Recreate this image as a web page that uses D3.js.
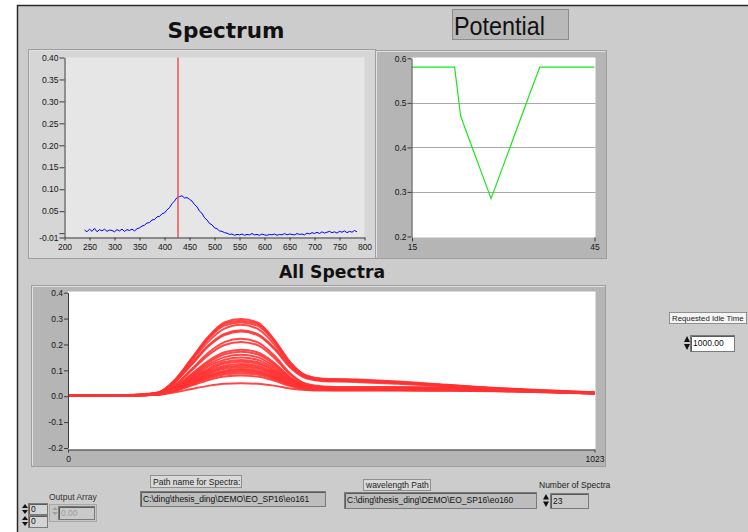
<!DOCTYPE html>
<html>
<head>
<meta charset="utf-8">
<script src="https://cdn.jsdelivr.net/npm/d3@7"></script>
<style>
  body { margin: 0; background: #fff; }
  text { font-family: "Liberation Sans", Arial, sans-serif; }
</style>
</head>
<body>
<div id="app"></div>
<script>
// ---- data ----
const spectrumWl = d3.range(240, 790, 5);
const spectrumAbs = [
  0.007, 0.003, 0.009, 0.004, 0.011, 0.003, 0.008, 0.005, 0.009, 0.004,
  0.007, 0.006, 0.003, 0.008, 0.005, 0.009, 0.004, 0.008, 0.006, 0.009,
  0.005, 0.010, 0.012, 0.016, 0.018, 0.023, 0.024, 0.030, 0.031, 0.037,
  0.038, 0.044, 0.046, 0.053, 0.058, 0.067, 0.073, 0.081, 0.083, 0.085,
  0.080, 0.081, 0.077, 0.073, 0.065, 0.060, 0.050, 0.045, 0.035, 0.030,
  0.022, 0.019, 0.012, 0.010, 0.005, 0.004, 0.001, 0.000, -0.003, -0.002,
  -0.005, -0.003, -0.004, -0.002, -0.005, -0.003, -0.004, -0.001, -0.004, -0.003,
  -0.005, -0.002, -0.004, -0.005, -0.003, -0.004, -0.002, -0.005, -0.003, -0.004,
  -0.001, -0.004, -0.002, -0.003, -0.004, -0.001, -0.003, -0.002, -0.004, 0.000,
  -0.002, 0.001, -0.001, 0.002, -0.001, 0.003, 0.000, 0.002, 0.004, 0.001,
  0.003, 0.000, 0.004, 0.002, 0.005, 0.001, 0.004, 0.002, 0.006, 0.003
];
const cursorWl = 427;
const spectrumXTicks = d3.range(200, 801, 50);
const spectrumYTicks = [0.40, 0.35, 0.30, 0.25, 0.20, 0.15, 0.10, 0.05, 0.00, -0.01];

const potTime = d3.range(15, 46);
const potValue = [
  0.58, 0.58, 0.58, 0.58, 0.58, 0.58, 0.58, 0.58,
  0.47, 0.433, 0.396, 0.359, 0.322, 0.285, 0.322, 0.359, 0.396, 0.433, 0.47, 0.507, 0.544,
  0.58, 0.58, 0.58, 0.58, 0.58, 0.58, 0.58, 0.58, 0.58, 0.58
];
const potYTicks = [0.2, 0.3, 0.4, 0.5, 0.6];
const potXTicks = [15, 45];

const allIdx = [0, 64, 128, 176, 208, 240, 272, 304, 336, 368, 400, 432, 464, 496, 544, 640, 736, 832, 928, 1023];
const allSpectra = [
  [0.004,0.005,0.003,0.015,0.064,0.146,0.229,0.285,0.298,0.285,0.221,0.131,0.078,0.066,0.064,0.055,0.043,0.031,0.019,0.013],
  [0.003,0.004,0.005,0.014,0.062,0.143,0.224,0.280,0.292,0.280,0.216,0.128,0.076,0.064,0.062,0.053,0.042,0.030,0.018,0.013],
  [0.005,0.003,0.004,0.015,0.062,0.141,0.221,0.273,0.285,0.273,0.213,0.128,0.079,0.068,0.066,0.057,0.044,0.032,0.020,0.013],
  [0.004,0.004,0.006,0.014,0.059,0.134,0.210,0.261,0.276,0.261,0.202,0.120,0.072,0.061,0.059,0.051,0.040,0.029,0.018,0.012],
  [0.004,0.003,0.004,0.014,0.056,0.125,0.195,0.241,0.255,0.241,0.189,0.115,0.073,0.063,0.061,0.052,0.041,0.030,0.018,0.013],
  [0.003,0.005,0.004,0.013,0.054,0.121,0.191,0.236,0.250,0.236,0.184,0.110,0.068,0.058,0.056,0.048,0.038,0.027,0.017,0.012],
  [0.004,0.003,0.005,0.011,0.045,0.104,0.167,0.209,0.222,0.209,0.159,0.088,0.047,0.038,0.036,0.036,0.034,0.031,0.023,0.015],
  [0.005,0.004,0.003,0.011,0.042,0.099,0.158,0.198,0.210,0.198,0.150,0.083,0.045,0.036,0.034,0.034,0.033,0.030,0.022,0.015],
  [0.003,0.005,0.004,0.010,0.037,0.086,0.136,0.170,0.180,0.170,0.130,0.073,0.041,0.033,0.032,0.032,0.031,0.028,0.021,0.014],
  [0.004,0.004,0.005,0.009,0.036,0.082,0.129,0.162,0.172,0.162,0.124,0.070,0.039,0.031,0.030,0.030,0.029,0.026,0.020,0.013],
  [0.005,0.003,0.004,0.009,0.034,0.077,0.121,0.151,0.160,0.151,0.116,0.067,0.039,0.032,0.031,0.031,0.030,0.027,0.020,0.013],
  [0.004,0.005,0.003,0.009,0.032,0.072,0.114,0.141,0.150,0.141,0.109,0.062,0.035,0.029,0.028,0.028,0.027,0.024,0.018,0.012],
  [0.003,0.004,0.005,0.009,0.031,0.068,0.106,0.132,0.140,0.132,0.102,0.060,0.036,0.030,0.029,0.029,0.028,0.025,0.019,0.013],
  [0.004,0.003,0.004,0.008,0.029,0.065,0.101,0.126,0.133,0.126,0.097,0.057,0.033,0.028,0.027,0.027,0.026,0.024,0.018,0.012],
  [0.005,0.004,0.004,0.008,0.028,0.062,0.096,0.118,0.125,0.118,0.092,0.055,0.034,0.029,0.028,0.028,0.027,0.024,0.018,0.012],
  [0.003,0.005,0.004,0.008,0.027,0.058,0.090,0.112,0.118,0.112,0.087,0.052,0.032,0.027,0.026,0.026,0.025,0.023,0.017,0.012],
  [0.004,0.003,0.005,0.008,0.026,0.056,0.086,0.106,0.112,0.106,0.083,0.051,0.032,0.028,0.027,0.027,0.026,0.024,0.018,0.012],
  [0.005,0.004,0.003,0.008,0.024,0.052,0.081,0.099,0.105,0.099,0.078,0.047,0.030,0.026,0.025,0.025,0.024,0.022,0.017,0.011],
  [0.004,0.005,0.004,0.008,0.024,0.051,0.077,0.095,0.100,0.095,0.075,0.047,0.030,0.027,0.026,0.026,0.025,0.023,0.017,0.012],
  [0.003,0.004,0.005,0.007,0.023,0.048,0.073,0.090,0.095,0.090,0.071,0.044,0.028,0.025,0.024,0.024,0.023,0.021,0.016,0.011],
  [0.005,0.003,0.004,0.007,0.022,0.045,0.068,0.084,0.088,0.084,0.067,0.043,0.029,0.026,0.025,0.025,0.024,0.022,0.017,0.011],
  [0.004,0.004,0.003,0.007,0.020,0.041,0.062,0.076,0.080,0.076,0.061,0.039,0.026,0.024,0.023,0.023,0.022,0.020,0.015,0.011],
  [0.003,0.005,0.004,0.006,0.015,0.028,0.040,0.048,0.050,0.048,0.041,0.030,0.024,0.022,0.022,0.022,0.021,0.019,0.015,0.010]
];
const allYTicks = [-0.2, -0.1, 0.0, 0.1, 0.2, 0.3, 0.4];
const allXTicks = [0, 1023];

// ---- page ----
const width = 748, height = 532;
const svg = d3.select('#app').append('svg').attr('width', width).attr('height', height);

svg.append('rect').attr('x', 17).attr('y', 5).attr('width', width - 17).attr('height', height - 5).attr('fill', '#cccccc');
svg.append('path').attr('d', 'M17.5,532V5.5H748').attr('fill', 'none').attr('stroke', '#2b2b2b').attr('stroke-width', 1.5);

function styleAxis(g, size) {
    g.attr('font-family', '"Liberation Sans", Arial, sans-serif').attr('font-size', size || 8.5);
    g.select('.domain').attr('stroke', '#3c3c3c');
    g.selectAll('.tick line').attr('stroke', '#3c3c3c');
    g.selectAll('.tick text').attr('fill', '#151515');
}

function frame(x, y, w, h, fill) {
    svg.append('rect').attr('x', x).attr('y', y).attr('width', w).attr('height', h)
        .attr('fill', fill).attr('stroke', '#9e9e9e').attr('stroke-width', 1);
    // light bevel
    svg.append('path').attr('d', `M${x + 1},${y + h - 1}V${y + 1}H${x + w - 1}`)
        .attr('fill', 'none').attr('stroke', '#e0e0e0').attr('stroke-width', 1);
}

// ---- Spectrum ----
svg.append('text').attr('x', 226).attr('y', 38).attr('text-anchor', 'middle')
    .style('font-family', '"DejaVu Sans", Verdana, sans-serif').style('font-weight', 'bold').style('font-size', '22px')
    .attr('textLength', 117).attr('lengthAdjust', 'spacingAndGlyphs').attr('fill', '#111').text('Spectrum');

frame(28.5, 49.5, 347, 209, '#d6d6d6');

const sx = d3.scaleLinear().domain([200, 800]).range([64.5, 364.5]);
const sy = d3.scaleLinear().domain([-0.01, 0.40]).range([237.5, 57.5]);

svg.append('rect').attr('x', sx(200)).attr('y', sy(0.40)).attr('width', sx(800) - sx(200)).attr('height', sy(-0.01) - sy(0.40)).attr('fill', '#e6e6e6');
svg.append('defs').append('clipPath').attr('id', 'clipSpec').append('rect')
    .attr('x', sx(200)).attr('y', sy(0.40)).attr('width', sx(800) - sx(200)).attr('height', sy(-0.01) - sy(0.40));

svg.append('path').datum(spectrumAbs)
    .attr('clip-path', 'url(#clipSpec)')
    .attr('d', d3.line().x((d, i) => sx(spectrumWl[i])).y(d => sy(d)))
    .attr('fill', 'none').attr('stroke', '#0000ff').attr('stroke-width', 1);

svg.append('line').attr('x1', sx(cursorWl)).attr('x2', sx(cursorWl)).attr('y1', sy(0.40)).attr('y2', sy(-0.01))
    .attr('stroke', '#f25050').attr('stroke-width', 1.5);

svg.append('g').attr('transform', `translate(${sx(200)},0)`)
    .call(d3.axisLeft(sy).tickValues(spectrumYTicks).tickSize(5).tickSizeOuter(0).tickPadding(1)
        .tickFormat(d => d === 0 ? '' : d.toFixed(2)))
    .call(g => styleAxis(g));
svg.append('g').attr('transform', `translate(0,${sy(-0.01)})`)
    .call(d3.axisBottom(sx).tickValues(spectrumXTicks).tickSize(3).tickSizeOuter(0).tickPadding(3).tickFormat(d3.format('d')))
    .call(g => styleAxis(g));

// ---- Potential ----
svg.append('rect').attr('x', 452.5).attr('y', 9.5).attr('width', 116).attr('height', 30)
    .attr('fill', '#b9b9b9').attr('stroke', '#8c8c8c');
svg.append('text').attr('x', 454).attr('y', 35)
    .style('font-size', '26px').attr('textLength', 91).attr('lengthAdjust', 'spacingAndGlyphs')
    .attr('fill', '#111').text('Potential');

frame(375.5, 50.5, 231, 208, '#b5b5b5');

const px = d3.scaleLinear().domain([15, 45]).range([412, 594.5]);
const py = d3.scaleLinear().domain([0.2, 0.6]).range([236.5, 58.3]);

svg.append('rect').attr('x', 411.5).attr('y', 57.5).attr('width', 184).attr('height', 180).attr('fill', '#ffffff');
svg.append('g').selectAll('line').data(potYTicks.filter(d => d > 0.2 && d < 0.6)).join('line')
    .attr('x1', 411.5).attr('x2', 595.5).attr('y1', d => Math.round(py(d)) + 0.5).attr('y2', d => Math.round(py(d)) + 0.5)
    .attr('stroke', '#a9a9a9');

svg.append('path').datum(potValue)
    .attr('d', d3.line().x((d, i) => px(potTime[i])).y(d => py(d)))
    .attr('fill', 'none').attr('stroke', '#19e619').attr('stroke-width', 1.2);

svg.append('g').attr('transform', 'translate(411.5,0)')
    .call(d3.axisLeft(py).tickValues(potYTicks).tickSize(4).tickSizeOuter(0).tickPadding(1).tickFormat(d => d.toFixed(1)))
    .call(g => styleAxis(g));
svg.append('g').attr('transform', 'translate(0,237.5)')
    .call(d3.axisBottom(px).tickValues(potXTicks).tickSize(4).tickSizeOuter(0).tickPadding(2))
    .call(g => styleAxis(g))
    .call(g => g.select('.domain').remove());

// ---- All Spectra ----
svg.append('text').attr('x', 332).attr('y', 278).attr('text-anchor', 'middle')
    .style('font-family', '"DejaVu Sans", Verdana, sans-serif').style('font-weight', 'bold').style('font-size', '17px')
    .attr('textLength', 106).attr('lengthAdjust', 'spacingAndGlyphs').attr('fill', '#111').text('All Spectra');

frame(31.5, 285.5, 574, 181, '#b5b5b5');

const ax = d3.scaleLinear().domain([0, 1023]).range([68, 594.5]);
const ay = d3.scaleLinear().domain([-0.2, 0.4]).range([448, 292.7]);

svg.append('rect').attr('x', 68).attr('y', 291.5).attr('width', 527.5).attr('height', 158).attr('fill', '#ffffff');
svg.select('defs').append('clipPath').attr('id', 'clipAll').append('rect')
    .attr('x', 68).attr('y', 291.5).attr('width', 527.5).attr('height', 158);

const allLine = d3.line().x((d, i) => ax(allIdx[i])).y(d => ay(d)).curve(d3.curveMonotoneX);
svg.append('g').attr('clip-path', 'url(#clipAll)')
    .selectAll('path').data(allSpectra).join('path')
    .attr('d', allLine)
    .attr('fill', 'none').attr('stroke', '#ff3333').attr('stroke-width', 2).attr('stroke-opacity', 0.9);

svg.append('g').attr('transform', 'translate(68,0)')
    .call(d3.axisLeft(ay).tickValues(allYTicks).tickSize(4).tickSizeOuter(0).tickPadding(1).tickFormat(d => d.toFixed(1)))
    .call(g => styleAxis(g));
svg.append('g').attr('transform', 'translate(0,449.5)')
    .call(d3.axisBottom(ax).tickValues(allXTicks).tickSize(3).tickSizeOuter(0).tickPadding(3).tickFormat(d3.format('d')))
    .call(g => styleAxis(g));

// ---- controls ----
function labelBox(x, y, w, h, txt, fill, fs) {
    svg.append('rect').attr('x', x + 0.5).attr('y', y + 0.5).attr('width', w).attr('height', h)
        .attr('fill', fill || '#d9d9d9').attr('stroke', '#8f8f8f');
    svg.append('text').attr('x', x + 3).attr('y', y + h - 2.5).style('font-size', (fs || 8.5) + 'px').attr('fill', '#222').text(txt);
}
function field(x, y, w, h, txt, fill, color) {
    svg.append('rect').attr('x', x + 0.5).attr('y', y + 0.5).attr('width', w).attr('height', h)
        .attr('fill', fill).attr('stroke', '#7a7a7a');
    svg.append('path').attr('d', `M${x + 1.5},${y + h}V${y + 1.5}H${x + w}`).attr('fill', 'none').attr('stroke', '#5a5a5a');
    svg.append('text').attr('x', x + 3).attr('y', y + h / 2 + 3).style('font-size', '8.5px').attr('fill', color || '#111').text(txt);
}
function stepper(x, y, h, color) {
    const m = y + h / 2;
    svg.append('path').attr('d', `M${x},${m - 1}L${x + 3},${y + 1}L${x + 6},${m - 1}Z M${x},${m + 1}L${x + 3},${y + h - 1}L${x + 6},${m + 1}Z`)
        .attr('fill', color || '#111');
}

labelBox(150, 475, 91, 12, 'Path name for Spectra:');
field(140, 491, 185, 15, 'C:\\ding\\thesis_ding\\DEMO\\EO_SP16\\eo161', '#bdbdbd');

labelBox(363, 479, 67, 11, 'wavelength Path');
field(344, 492, 192, 16, 'C:\\ding\\thesis_ding\\DEMO\\EO_SP16\\eo160', '#bdbdbd');

svg.append('text').attr('x', 539).attr('y', 488).style('font-size', '8.5px').attr('fill', '#222').text('Number of Spectra');
stepper(543, 493, 15);
field(550, 493, 38, 15, '23', '#c9c9c9');

svg.append('text').attr('x', 49).attr('y', 500).style('font-size', '8.5px').attr('fill', '#333').text('Output Array');
stepper(22, 503, 12);
field(28, 503, 19, 11, '0', '#d4d4d4');
stepper(22, 515, 12);
field(28, 515, 19, 12, '0', '#d4d4d4');
svg.append('rect').attr('x', 49.5).attr('y', 504.5).attr('width', 47).attr('height', 17).attr('fill', '#c6c6c6').attr('stroke', '#a8a8a8');
stepper(52, 506, 10, '#a0a0a0');
field(58, 506, 36, 13, '0.00', '#cacaca', '#9a9a9a');

labelBox(669, 312, 77, 11, 'Requested Idle Time', '#f4f4f4', 7.8);
stepper(684, 335, 16);
field(690, 335, 44, 16, '1000.00', '#ffffff');
</script>
</body>
</html>
